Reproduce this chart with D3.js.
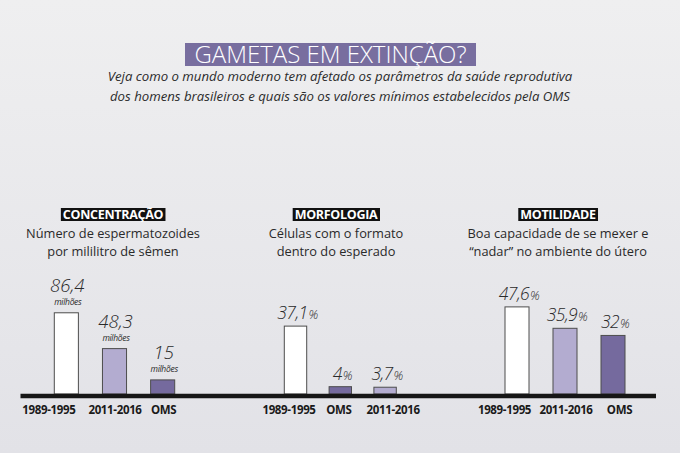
<!DOCTYPE html>
<html><head><meta charset="utf-8">
<script src="https://cdn.jsdelivr.net/npm/d3@7"></script>
<style>
html,body{margin:0;padding:0;background:#e9e9ec;}
svg{display:block;}
</style></head>
<body>
<script>
// ---- data ----
const titleText = "GAMETAS EM EXTINÇÃO?";
const subtitleLines = [
  "Veja como o mundo moderno tem afetado os parâmetros da saúde reprodutiva",
  "dos homens brasileiros e quais são os valores mínimos estabelecidos pela OMS"
];
const groupNames = ["CONCENTRAÇÃO", "MORFOLOGIA", "MOTILIDADE"];
const groupDescriptions = [
  ["Número de espermatozoides", "por mililitro de sêmen"],
  ["Células com o formato", "dentro do esperado"],
  ["Boa capacidade de se mexer e", "“nadar” no ambiente do útero"]
];
const concentracaoCategories = ["1989-1995", "2011-2016", "OMS"];
const concentracaoValues = [86.4, 48.3, 15];
const morfologiaCategories = ["1989-1995", "OMS", "2011-2016"];
const morfologiaValues = [37.1, 4, 3.7];
const motilidadeCategories = ["1989-1995", "2011-2016", "OMS"];
const motilidadeValues = [47.6, 35.9, 32];
const groupUnits = ["milhões", "%", "%"];
const periodKeys = ["1989-1995", "2011-2016", "OMS"];

// ---- layout / style ----
const W = 680, H = 453;
const baseY = 394;
const layout = [
  {x0: 54.3, x1: 174.7, cx: 113, yMax: 100, yTop: 300, labelShift: [-17.5, 0.5, 1]},
  {x0: 284.3, x1: 396.3, cx: 336, yMax: 50, yTop: 302.5, labelShift: [-6.5, -1.5, 8]},
  {x0: 505, x1: 625, cx: 558, yMax: 50, yTop: 302.5, labelShift: [-12.5, 1, 6.5]}
];
const colors = d3.scaleOrdinal().domain(periodKeys).range(["#ffffff", "#b3acd0", "#756a9e"]);
const fmt = d3.formatLocale({decimal: ",", thousands: ".", grouping: [3], currency: ["R$", ""]}).format("~g");

const svg = d3.select("body").append("svg").attr("width", W).attr("height", H);
const defs = svg.append("defs");
const grad = defs.append("linearGradient").attr("id", "bg").attr("x1", 0).attr("y1", 0).attr("x2", 0).attr("y2", 1);
grad.append("stop").attr("offset", "0%").attr("stop-color", "#efeff0");
grad.append("stop").attr("offset", "100%").attr("stop-color", "#e2e2e7");
svg.append("rect").attr("width", W).attr("height", H).attr("fill", "url(#bg)");

// title
const titleG = svg.append("g");
titleG.append("rect").attr("fill", "#786e9f")
  .attr("x", 185).attr("y", 43).attr("width", 291).attr("height", 23);
titleG.append("text")
  .attr("x", 330.5).attr("y", 62.5).attr("text-anchor", "middle")
  .attr("font-family", "'Open Sans', sans-serif").attr("font-weight", 300)
  .attr("font-size", 24).attr("fill", "#ffffff").text(titleText);

svg.append("g").selectAll("text").data(subtitleLines).join("text")
  .attr("x", 340).attr("y", (d, i) => 81 + i * 20)
  .attr("text-anchor", "middle")
  .attr("font-family", "'Open Sans', sans-serif").attr("font-style", "italic")
  .attr("font-size", 13.2).attr("fill", "#2b2b2b").text(d => d);

const allCats = [concentracaoCategories, morfologiaCategories, motilidadeCategories];
const allVals = [concentracaoValues, morfologiaValues, motilidadeValues];

groupNames.forEach((name, gi) => {
  const L = layout[gi];
  const cats = allCats[gi], vals = allVals[gi];
  const data = cats.map((c, i) => ({cat: c, value: vals[i], i}));
  const x = d3.scaleBand().domain(cats).range([L.x0, L.x1]).paddingInner(0.5).paddingOuter(0);
  const y = d3.scaleLinear().domain([0, L.yMax]).range([baseY, L.yTop]);
  const g = svg.append("g");

  // header
  const ht = g.append("text").attr("x", L.cx).attr("y", 219.3).attr("text-anchor", "middle")
    .attr("font-family", "'Open Sans', sans-serif").attr("font-weight", 700)
    .attr("font-size", 12.5).attr("fill", "#ffffff").attr("letter-spacing", -0.3).text(name);
  const bb = ht.node().getBBox();
  g.insert("rect", "text").attr("x", bb.x - 2).attr("y", 208).attr("width", bb.width + 4).attr("height", 13).attr("fill", "#111");

  g.selectAll("text.desc").data(groupDescriptions[gi]).join("text").attr("class", "desc")
    .attr("x", L.cx).attr("y", (d, i) => 237.5 + i * 18.5).attr("text-anchor", "middle")
    .attr("font-family", "'Open Sans', sans-serif").attr("font-size", 12.8)
    .attr("fill", "#2a2a2a").text(d => d);

  // bars
  g.selectAll("rect.bar").data(data).join("rect").attr("class", "bar")
    .attr("x", d => x(d.cat)).attr("y", d => y(d.value))
    .attr("width", x.bandwidth()).attr("height", d => baseY - y(d.value))
    .attr("fill", d => colors(d.cat)).attr("stroke", "#4d4d4d").attr("stroke-width", 1);

  // value labels
  if (groupUnits[gi] === "milhões") {
    g.selectAll("text.val").data(data).join("text").attr("class", "val")
      .attr("x", d => x(d.cat) + x.bandwidth() / 2 + 1).attr("y", d => y(d.value) - 21)
      .attr("text-anchor", "middle").attr("font-family", "'Open Sans', sans-serif")
      .attr("font-style", "italic").attr("font-weight", 300).attr("font-size", 18.5)
      .attr("fill", "#2a2a2a").text(d => fmt(d.value));
    g.selectAll("text.unit").data(data).join("text").attr("class", "unit")
      .attr("x", d => x(d.cat) + x.bandwidth() / 2 + 1.5).attr("y", d => y(d.value) - 7.5)
      .attr("text-anchor", "middle").attr("font-family", "'Open Sans', sans-serif")
      .attr("font-style", "italic").attr("font-size", 8.5).attr("letter-spacing", -0.3)
      .attr("fill", "#2a2a2a").text(groupUnits[gi]);
  } else {
    const t = g.selectAll("text.val").data(data).join("text").attr("class", "val")
      .attr("x", d => x(d.cat) + x.bandwidth() / 2 + 2).attr("y", d => y(d.value) - 7)
      .attr("text-anchor", "middle").attr("font-family", "'Open Sans', sans-serif")
      .attr("font-style", "italic").attr("font-weight", 300).attr("font-size", 17.5)
      .attr("letter-spacing", -0.6).attr("fill", "#2a2a2a");
    t.append("tspan").text(d => fmt(d.value));
    t.append("tspan").attr("font-size", 12.5).attr("dx", 1).text(groupUnits[gi]);
  }

  // category labels
  g.selectAll("text.cat").data(data).join("text").attr("class", "cat")
    .attr("x", d => x(d.cat) + x.bandwidth() / 2 + L.labelShift[d.i]).attr("y", 414)
    .attr("text-anchor", "middle").attr("font-family", "'Open Sans', sans-serif")
    .attr("font-weight", 700).attr("font-size", 11.5).attr("letter-spacing", -0.35)
    .attr("fill", "#1a1a1a").text(d => d.cat);
});

// baseline axis
svg.append("line").attr("x1", 20.5).attr("x2", 656).attr("y1", baseY + 2).attr("y2", baseY + 2)
  .attr("stroke", "#161616").attr("stroke-width", 4.3);
</script>
</body></html>
